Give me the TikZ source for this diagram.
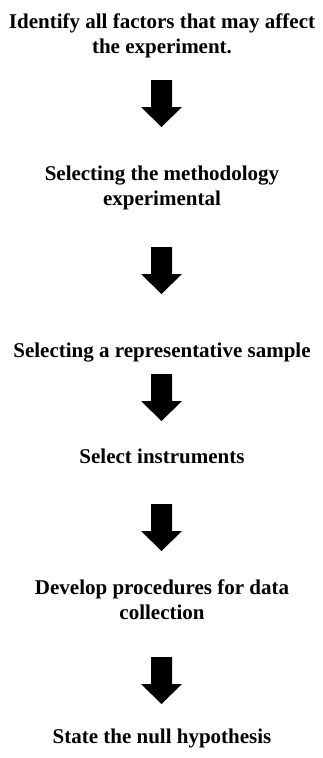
\documentclass[tikz,border=0pt]{standalone}
\usepackage{fontspec}
\setmainfont{Liberation Serif}
\usetikzlibrary{calc}

% Solid block arrow pointing down from #1 to #2 (shaft 21pt wide, head 41pt wide, 20pt long)
\newcommand\downblock[2]{%
  \fill[black] let \p1=(#1), \p2=(#2) in
    ({\x1-10.5pt},\y1) -- ({\x1+10.5pt},\y1) -- ({\x1+10.5pt},{\y2+20pt})
    -- ({\x1+20.5pt},{\y2+20pt}) -- (\x2,\y2) -- ({\x1-20.5pt},{\y2+20pt})
    -- ({\x1-10.5pt},{\y2+20pt}) -- cycle;}

\begin{document}
\begin{tikzpicture}[x=1pt,y=-1pt,
  stage/.style={align=center,inner sep=0pt,anchor=base,
    font=\bfseries\fontsize{21}{25}\selectfont}]
  \useasboundingbox[fill=white] (0,0) rectangle (323,758);

  % multi-line stages are placed by the baseline of their last line
  \node[stage] (s1) at (162,53) {Identify all factors that may affect\\the experiment.};
  \node[stage] (s2) at (162,205) {Selecting the methodology\\experimental};
  \node[stage] (s3) at (162,357) {Selecting a representative sample};
  \node[stage] (s4) at (162,463) {Select instruments};
  \node[stage] (s5) at (162,619) {Develop procedures for data\\collection};
  \node[stage] (s6) at (162,743) {State the null hypothesis};

  % arrow end points between consecutive stages
  \coordinate (a1t) at (161.5,80);  \coordinate (a1b) at (161.5,127);
  \coordinate (a2t) at (161.5,247); \coordinate (a2b) at (161.5,294);
  \coordinate (a3t) at (161.5,374); \coordinate (a3b) at (161.5,421);
  \coordinate (a4t) at (161.5,504); \coordinate (a4b) at (161.5,551);
  \coordinate (a5t) at (161.5,657); \coordinate (a5b) at (161.5,704);

  \downblock{a1t}{a1b}
  \downblock{a2t}{a2b}
  \downblock{a3t}{a3b}
  \downblock{a4t}{a4b}
  \downblock{a5t}{a5b}
\end{tikzpicture}
\end{document}
